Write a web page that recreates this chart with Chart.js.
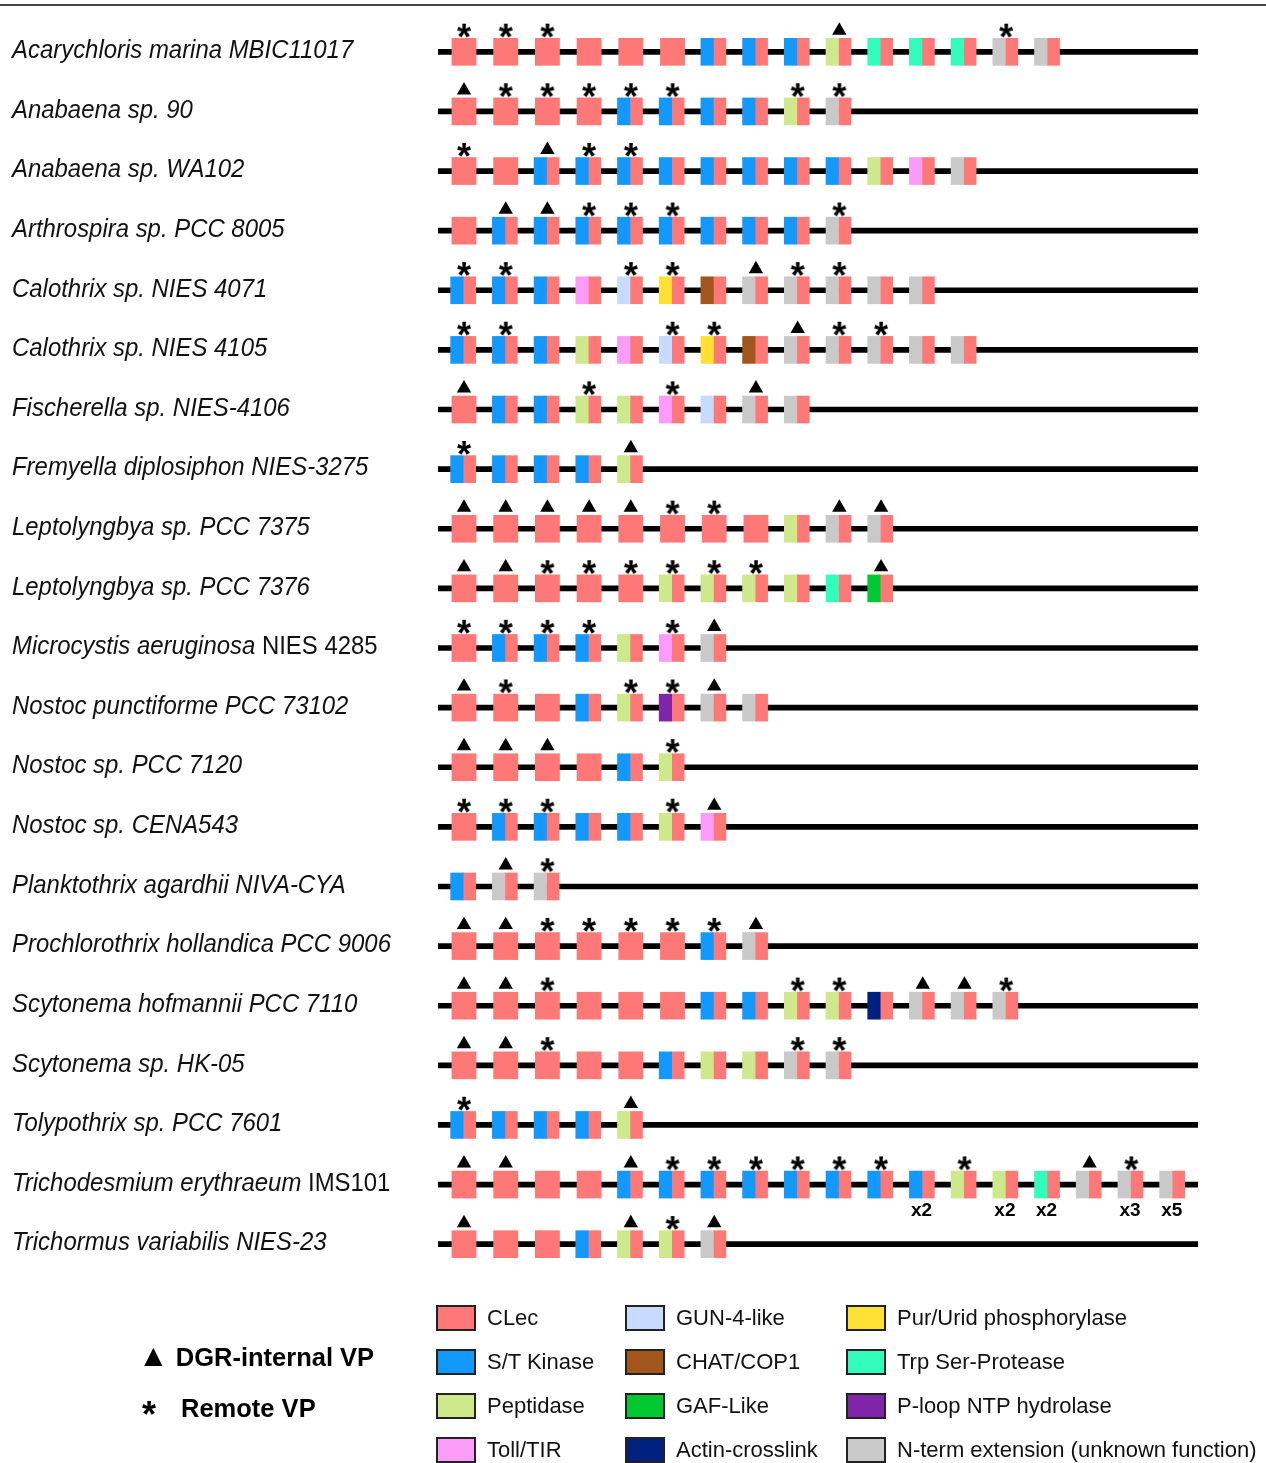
<!DOCTYPE html>
<html><head><meta charset="utf-8">
<script src="https://cdn.jsdelivr.net/npm/chart.js@4.4.0/dist/chart.umd.min.js"></script>
<style>
html,body{margin:0;padding:0;background:#fff;}
#wrap{position:relative;width:1266px;height:1463px;overflow:hidden;font-family:"Liberation Sans",Arial,sans-serif;}
#topline{position:absolute;left:0;top:4px;width:1266px;height:2px;background:#444;}
#c{position:absolute;left:0;top:0;}
.lg{position:absolute;height:24px;display:flex;align-items:center;font-size:22px;color:#111;white-space:nowrap;}
.lg .sw{width:36px;height:22px;border:2px solid #222;margin-right:11px;box-sizing:content-box;}
.mk{position:absolute;font-weight:bold;font-size:25.5px;color:#000;white-space:nowrap;}
</style></head><body>
<div id="wrap">
<div id="topline"></div>
<canvas id="c" width="1266" height="1463"></canvas>
</div>
<script>
// ---- data ----
const speciesItalic = [
 "Acarychloris marina MBIC11017","Anabaena sp. 90","Anabaena sp. WA102","Arthrospira sp. PCC 8005",
 "Calothrix sp. NIES 4071","Calothrix sp. NIES 4105","Fischerella sp. NIES-4106","Fremyella diplosiphon NIES-3275",
 "Leptolyngbya sp. PCC 7375","Leptolyngbya sp. PCC 7376","Microcystis aeruginosa","Nostoc punctiforme PCC 73102",
 "Nostoc sp. PCC 7120","Nostoc sp. CENA543","Planktothrix agardhii NIVA-CYA","Prochlorothrix hollandica PCC 9006",
 "Scytonema hofmannii PCC 7110","Scytonema sp. HK-05","Tolypothrix sp. PCC 7601","Trichodesmium erythraeum",
 "Trichormus variabilis NIES-23"];
const speciesRoman = ["","","","","","","","","","","NIES 4285","","","","","","","","","IMS101",""];
// domain codes: C CLec, K S/T Kinase, P Peptidase, T Toll/TIR, G GUN-4-like, U Pur/Urid, H CHAT/COP1,
// F GAF-Like, A Actin-crosslink, R Trp Ser-Protease, L P-loop NTP hydrolase, N N-term extension
const genes = [
 "CCCCCCKKKPRRRNN","CCCCKKKKPN","CCKKKKKKKKPTN","CKKKKKKKKN","KKKTGUHNNNNN","KKKPTGUHNNNNN",
 "CKKPPTGNN","KKKKP","CCCCCCCCPNN","CCCCCPPPPRF","CKKKPTN","CCCKPLNN","CCCCKP","CKKKKPT","KNN",
 "CCCCCCKN","CCCCCCKKPPANNN","CCCCCKPPNN","KKKKP","CCCCKKKKKKKKPPRNNN","CCCKPPN"];
// ^ = DGR-internal VP, * = Remote VP
const marks = [
 "***......^...*.","^*****..**","*.^**........",".^^***...*","**..**.^**..","**...**.^**..",
 "^..*.*.^.","*...^","^^^^^**..^^","^^******..^","****.*^","^*..**^.","^^^..*","***..*^",".^*",
 "^^*****^","^^*.....**.^^*","^^*.....**","*...^","^^..^******.*..^*.","^...^*^"];
// copy numbers (Trichodesmium row)
const copyRow = 19;
const copySlots = [11,13,14,16,17];
const copyLabels = ["x2","x2","x2","x3","x5"];

const domainNames = {C:"CLec",K:"S/T Kinase",P:"Peptidase",T:"Toll/TIR",G:"GUN-4-like",H:"CHAT/COP1",F:"GAF-Like",
 A:"Actin-crosslink",U:"Pur/Urid phosphorylase",R:"Trp Ser-Protease",L:"P-loop NTP hydrolase",N:"N-term extension (unknown function)"};
const legendOrder = ["C","K","P","T","G","H","F","A","U","R","L","N"];
const colors = {C:"#FF7878",K:"#1399FE",P:"#CDE98B",T:"#FA9CF8",G:"#C8DAFF",H:"#A3561C",F:"#00C832",
 A:"#00217F",U:"#FFE135",R:"#33FDBB",L:"#8024A8",N:"#C9C9C9"};

// ---- geometry (in scale units) ----
const NROWS = speciesItalic.length;
const XMIN = -0.6235, XMAX = 17.6;
const HALF_FULL = 0.29, LEFT_SPLIT = -0.32, MID_SPLIT = -0.02, RIGHT_SPLIT = 0.28;
const MARK_OFF = 0.355;

const lineData = [], fullData = [], leftData = [], leftCols = [], rightData = [], triData = [], starData = [];
for (let i = 0; i < NROWS; i++) {
  lineData.push({x:[XMIN, XMAX], y:i});
  const g = genes[i];
  for (let k = 0; k < g.length; k++) {
    const c = g[k];
    if (c === "C") fullData.push({x:[k-HALF_FULL, k+HALF_FULL], y:i});
    else {
      leftData.push({x:[k+LEFT_SPLIT, k+MID_SPLIT], y:i}); leftCols.push(colors[c]);
      rightData.push({x:[k+MID_SPLIT, k+RIGHT_SPLIT], y:i});
    }
    const m = marks[i][k];
    if (m === "^") triData.push({x:k, y:i-MARK_OFF});
    else if (m === "*") starData.push({x:k, y:i-MARK_OFF});
  }
}

// asterisk glyph as point style
function makeStar(size, px) {
  const cv = document.createElement("canvas");
  cv.width = size; cv.height = size;
  const c = cv.getContext("2d");
  c.fillStyle = "#000";
  c.font = "bold " + px + "px 'Liberation Sans', Arial, sans-serif";
  const m = c.measureText("*");
  const w = m.actualBoundingBoxLeft + m.actualBoundingBoxRight;
  const h = m.actualBoundingBoxAscent + m.actualBoundingBoxDescent;
  const x = (size - w)/2 + m.actualBoundingBoxLeft;
  const y = (size - h)/2 + m.actualBoundingBoxAscent;
  c.fillText("*", x, y);
  return cv;
}
const starImg = makeStar(20, 36);

const barBase = {type:"bar", indexAxis:"y", grouped:false, borderWidth:0, borderSkipped:false};

const labelPlugin = {
  id:"rowLabels",
  afterDraw(chart) {
    const ctx = chart.ctx, ys = chart.scales.y, xs = chart.scales.x;
    ctx.save();
    ctx.fillStyle = "#111";
    ctx.textBaseline = "middle";
    const SQ = 0.92;
    for (let i = 0; i < NROWS; i++) {
      const y = ys.getPixelForValue(i) - 1;
      ctx.save();
      ctx.translate(12, y);
      ctx.scale(SQ, 1);
      ctx.font = "italic 26px 'Liberation Sans', Arial, sans-serif";
      ctx.fillText(speciesItalic[i], 0, 0);
      let w = ctx.measureText(speciesItalic[i] + " ").width;
      if (speciesRoman[i]) {
        ctx.font = "26px 'Liberation Sans', Arial, sans-serif";
        ctx.fillText(speciesRoman[i], w, 0);
      }
      ctx.restore();
    }
    ctx.font = "bold 19px 'Liberation Sans', Arial, sans-serif";
    ctx.textAlign = "center";
    ctx.fillStyle = "#000";
    const yc = ys.getPixelForValue(copyRow) + 26;
    copySlots.forEach((k, j) => ctx.fillText(copyLabels[j], xs.getPixelForValue(k - 0.03), yc));
    ctx.restore();
  }
};

new Chart(document.getElementById("c"), {
  data: {datasets: [
    Object.assign({}, barBase, {data:lineData, backgroundColor:"#000", barThickness:5, order:10}),
    Object.assign({}, barBase, {data:fullData, backgroundColor:colors.C, barThickness:27, order:5}),
    Object.assign({}, barBase, {data:leftData, backgroundColor:leftCols, barThickness:27, order:5}),
    Object.assign({}, barBase, {data:rightData, backgroundColor:colors.C, barThickness:27, order:5}),
    {type:"scatter", data:triData, pointStyle:"triangle", pointRadius:8.3, backgroundColor:"#000", borderWidth:0, order:1},
    {type:"scatter", data:starData, pointStyle:starImg, pointRadius:8, order:1}
  ]},
  options: {
    responsive:false, animation:false, events:[],
    layout:{padding:{left:438, right:1266-1198, top:22, bottom:189}},
    scales:{
      x:{type:"linear", min:XMIN, max:XMAX, display:false, offset:false},
      y:{type:"linear", min:-0.5, max:NROWS-0.5, reverse:true, display:false, offset:false}
    },
    plugins:{legend:{display:false}, tooltip:{enabled:false}}
  },
  plugins:[labelPlugin]
});

// ---- legend (HTML) ----
const wrap = document.getElementById("wrap");
const colX = [436, 625, 846], rowY = [1306, 1350, 1394, 1438];
legendOrder.forEach((k, idx) => {
  const col = Math.floor(idx/4), row = idx % 4;
  const d = document.createElement("div");
  d.className = "lg";
  d.style.left = colX[col] + "px"; d.style.top = rowY[row] + "px";
  d.innerHTML = '<div class="sw" style="background:' + colors[k] + '"></div><span>' + domainNames[k] + '</span>';
  wrap.appendChild(d);
});
const mk1 = document.createElement("div"); mk1.className = "mk";
mk1.style.left = "138px"; mk1.style.top = "1338px";
mk1.innerHTML = '<span style="font-size:31px">&#9650;</span>&nbsp;DGR-internal VP';
wrap.appendChild(mk1);
const mk2 = document.createElement("div"); mk2.className = "mk";
mk2.style.left = "142px"; mk2.style.top = "1394px";
mk2.innerHTML = '<span style="font-size:36px;vertical-align:-10px">*</span><span style="display:inline-block;width:25px"></span>Remote VP';
wrap.appendChild(mk2);
</script>
</body></html>
